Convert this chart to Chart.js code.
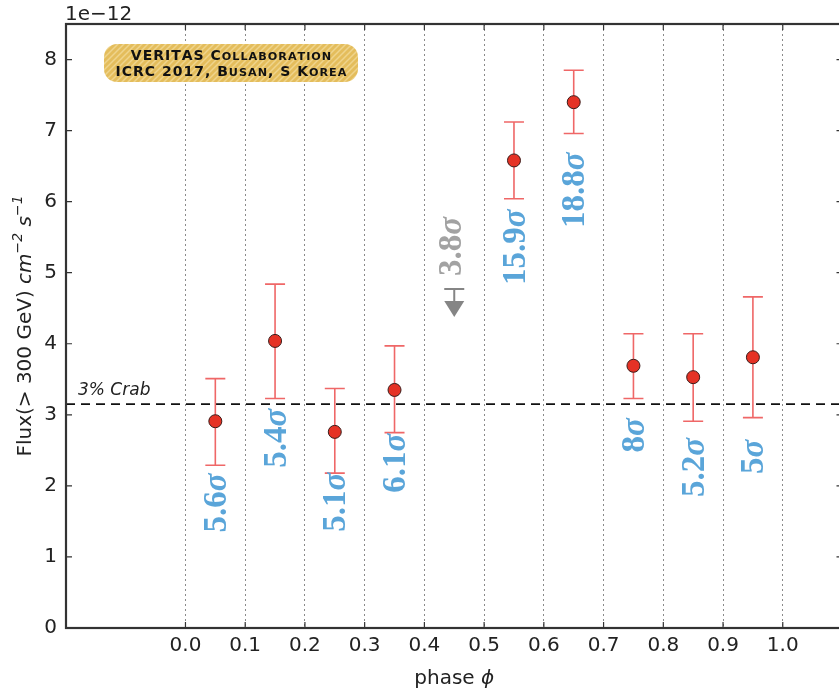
<!DOCTYPE html>
<html>
<head>
<meta charset="utf-8">
<script src="https://cdn.jsdelivr.net/npm/chart.js@4.4.0/dist/chart.umd.min.js"></script>
<style>
  html, body { margin: 0; padding: 0; background: #fff; overflow: hidden; }
  #wrap { width: 850px; height: 694px; position: relative; }
</style>
</head>
<body>
<div id="wrap"><canvas id="fluxChart"></canvas></div>
<script>
// phase-binned flux, units of 1e-12 cm^-2 s^-1
const phase = [0.05, 0.15, 0.25, 0.35, 0.55, 0.65, 0.75, 0.85, 0.95];
const flux = [2.91, 4.04, 2.76, 3.35, 6.58, 7.40, 3.69, 3.53, 3.81];
const fluxHi = [3.51, 4.84, 3.37, 3.97, 7.12, 7.85, 4.14, 4.14, 4.66];
const fluxLo = [2.29, 3.23, 2.18, 2.75, 6.04, 6.96, 3.23, 2.91, 2.96];

// upper limit bin
const ulPhase = 0.45;
const ulFlux = 4.77;

// significance labels (rotated), anchored in data coords
const sigPhase = [0.05, 0.15, 0.25, 0.35, 0.45, 0.55, 0.65, 0.75, 0.85, 0.95];
const sigText = ['5.6', '5.4', '5.1', '6.1', '3.8', '15.9', '18.8', '8', '5.2', '5'];
const sigY = [1.76, 2.67, 1.77, 2.32, 5.37, 5.36, 6.16, 2.71, 2.26, 2.41];

const crabLevel = 3.15;

const xTicks = [0.0, 0.1, 0.2, 0.3, 0.4, 0.5, 0.6, 0.7, 0.8, 0.9, 1.0];
const yTicks = [0, 1, 2, 3, 4, 5, 6, 7, 8];

const axisColor = '#333';
const textColor = '#222';
const errColor = '#ef6767';
const ulColor = '#858585';
const sigBlue = '#5aa5d9';
const sigGray = '#a2a2a2';

function makeHatch(ctx) {
  const c = document.createElement('canvas');
  c.width = 6; c.height = 6;
  const g = c.getContext('2d');
  g.fillStyle = '#e4bd5c';
  g.fillRect(0, 0, 6, 6);
  g.strokeStyle = '#efd48c';
  g.lineWidth = 1.5;
  g.beginPath();
  g.moveTo(-1, 7); g.lineTo(7, -1);
  g.moveTo(-4, 4); g.lineTo(4, -4);
  g.moveTo(2, 10); g.lineTo(10, 2);
  g.stroke();
  return ctx.createPattern(c, 'repeat');
}

// small caps by hand: lowercase letters drawn as smaller capitals
function smallCaps(ctx, text, cx, y, size, spacing) {
  const parts = text.split('').map(ch => {
    const low = ch !== ch.toUpperCase();
    const s = low ? size * 0.8 : size;
    ctx.font = 'bold ' + s + 'px "DejaVu Sans"';
    return {ch: ch.toUpperCase(), s: s, w: ctx.measureText(ch.toUpperCase()).width + spacing};
  });
  const total = parts.reduce((a, p) => a + p.w, 0) - spacing;
  let x = cx - total / 2;
  ctx.textAlign = 'left';
  ctx.textBaseline = 'alphabetic';
  parts.forEach(p => {
    ctx.font = 'bold ' + p.s + 'px "DejaVu Sans"';
    ctx.fillText(p.ch, x, y);
    x += p.w;
  });
}

// draw a run of text pieces, each {t, font, dy}
function drawRuns(ctx, runs, x, y, align) {
  let total = 0;
  runs.forEach(r => { ctx.font = r.font; r.w = ctx.measureText(r.t).width; total += r.w; });
  let cx = align === 'center' ? x - total / 2 : x;
  ctx.textAlign = 'left';
  runs.forEach(r => {
    ctx.font = r.font;
    ctx.fillText(r.t, cx, y + (r.dy || 0));
    cx += r.w;
  });
}

const overlay = {
  id: 'overlay',
  beforeDatasetsDraw(chart) {
    const ctx = chart.ctx;
    const xs = chart.scales.x, ys = chart.scales.y;
    const area = chart.chartArea;
    ctx.save();

    // 3% Crab level
    const yc = ys.getPixelForValue(crabLevel);
    ctx.strokeStyle = '#111';
    ctx.lineWidth = 1.6;
    ctx.setLineDash([9, 6]);
    ctx.beginPath();
    ctx.moveTo(area.left, yc);
    ctx.lineTo(area.right, yc);
    ctx.stroke();
    ctx.setLineDash([]);
    ctx.fillStyle = textColor;
    ctx.font = 'italic 17px "DejaVu Sans"';
    ctx.textAlign = 'left';
    ctx.textBaseline = 'alphabetic';
    ctx.fillText('3% Crab', area.left + 12, yc - 9);

    // error bars
    ctx.strokeStyle = errColor;
    ctx.lineWidth = 1.6;
    phase.forEach((p, i) => {
      const x = xs.getPixelForValue(p);
      const yt = ys.getPixelForValue(fluxHi[i]);
      const yb = ys.getPixelForValue(fluxLo[i]);
      ctx.beginPath();
      ctx.moveTo(x, yt); ctx.lineTo(x, yb);
      ctx.moveTo(x - 10, yt); ctx.lineTo(x + 10, yt);
      ctx.moveTo(x - 10, yb); ctx.lineTo(x + 10, yb);
      ctx.stroke();
    });

    // upper limit arrow
    const ux = xs.getPixelForValue(ulPhase);
    const uy = ys.getPixelForValue(ulFlux);
    ctx.strokeStyle = ulColor;
    ctx.fillStyle = ulColor;
    ctx.lineWidth = 2;
    ctx.beginPath();
    ctx.moveTo(ux - 10, uy); ctx.lineTo(ux + 10, uy);
    ctx.moveTo(ux, uy); ctx.lineTo(ux, uy + 13);
    ctx.stroke();
    ctx.beginPath();
    ctx.moveTo(ux - 10, uy + 12);
    ctx.lineTo(ux + 10, uy + 12);
    ctx.lineTo(ux, uy + 28);
    ctx.closePath();
    ctx.fill();

    // significance labels, rotated
    sigPhase.forEach((p, i) => {
      const x = xs.getPixelForValue(p) - (p === ulPhase ? 4 : 0);
      const y = ys.getPixelForValue(sigY[i]);
      ctx.save();
      ctx.translate(x, y);
      ctx.rotate(-Math.PI / 2);
      ctx.fillStyle = p === ulPhase ? sigGray : sigBlue;
      ctx.textBaseline = 'middle';
      drawRuns(ctx, [
        {t: sigText[i], font: 'bold 33px "Liberation Serif"'},
        {t: '\u03C3', font: 'bold italic 33px "Liberation Serif"'}
      ], 0, 2, 'center');
      ctx.restore();
    });
    ctx.restore();
  },
  afterDatasetsDraw(chart) {
    const ctx = chart.ctx;
    ctx.save();
    // collaboration badge
    ctx.fillStyle = makeHatch(ctx);
    ctx.beginPath();
    ctx.roundRect(104, 44, 254, 38, 13);
    ctx.fill();
    ctx.fillStyle = '#111';
    smallCaps(ctx, 'VERITAS Collaboration', 231, 60, 14, 1);
    smallCaps(ctx, 'ICRC 2017, Busan, S Korea', 231, 76, 14, 1);
    ctx.restore();
  },
  afterDraw(chart) {
    const ctx = chart.ctx;
    const xs = chart.scales.x, ys = chart.scales.y;
    const a = chart.chartArea;
    ctx.save();

    // inward tick marks on all four sides
    ctx.strokeStyle = axisColor;
    ctx.lineWidth = 1.2;
    ctx.beginPath();
    xTicks.forEach(v => {
      const x = xs.getPixelForValue(v);
      ctx.moveTo(x, a.bottom); ctx.lineTo(x, a.bottom - 6);
      ctx.moveTo(x, a.top); ctx.lineTo(x, a.top + 6);
    });
    yTicks.forEach(v => {
      const y = ys.getPixelForValue(v);
      ctx.moveTo(a.left, y); ctx.lineTo(a.left + 6, y);
      ctx.moveTo(a.right, y); ctx.lineTo(a.right - 6, y);
    });
    ctx.stroke();

    // spines
    ctx.lineWidth = 2.2;
    ctx.strokeRect(a.left, a.top, a.right - a.left, a.bottom - a.top);

    // offset text
    ctx.fillStyle = textColor;
    ctx.textBaseline = 'alphabetic';
    ctx.font = '20px "DejaVu Sans"';
    ctx.textAlign = 'left';
    ctx.fillText('1e\u221212', a.left - 1, 20);

    // x title
    drawRuns(ctx, [
      {t: 'phase ', font: '20px "DejaVu Sans"'},
      {t: '\u03D5', font: 'italic 20px "DejaVu Sans"'}
    ], (a.left + a.right) / 2, 684, 'center');

    // y title
    ctx.translate(31, (a.top + a.bottom) / 2);
    ctx.rotate(-Math.PI / 2);
    drawRuns(ctx, [
      {t: 'Flux(> 300 GeV) ', font: '20px "DejaVu Sans"'},
      {t: 'cm', font: 'italic 20px "DejaVu Sans"'},
      {t: '\u22122', font: 'italic 14px "DejaVu Sans"', dy: -9},
      {t: ' s', font: 'italic 20px "DejaVu Sans"'},
      {t: '\u22121', font: 'italic 14px "DejaVu Sans"', dy: -9}
    ], 0, 0, 'center');
    ctx.restore();
  }
};

new Chart(document.getElementById('fluxChart'), {
  type: 'scatter',
  data: {
    datasets: [{
      data: phase.map((p, i) => ({x: p, y: flux[i]})),
      backgroundColor: '#e53225',
      borderColor: '#3a1c1a',
      borderWidth: 1,
      pointRadius: 6.5
    }]
  },
  options: {
    responsive: true,
    maintainAspectRatio: false,
    animation: false,
    events: [],
    layout: { padding: { top: 24, left: 0, right: 2, bottom: 0 } },
    plugins: { legend: { display: false }, tooltip: { enabled: false } },
    scales: {
      x: {
        type: 'linear',
        min: -0.2,
        max: 1.1,
        afterBuildTicks: (scale) => { scale.ticks = xTicks.map(v => ({value: v})); },
        afterFit: (scale) => { scale.height = 66; scale.paddingLeft = 0; scale.paddingRight = 0; },
        grid: { color: '#8a8a8a', lineWidth: 1, drawTicks: false },
        border: { display: false, dash: [2, 3] },
        ticks: {
          padding: 6,
          color: textColor,
          font: { family: 'DejaVu Sans', size: 20 },
          maxRotation: 0,
          callback: (v) => v.toFixed(1)
        }
      },
      y: {
        type: 'linear',
        min: 0,
        max: 8.5,
        afterBuildTicks: (scale) => { scale.ticks = yTicks.map(v => ({value: v})); },
        afterFit: (scale) => { scale.width = 66; scale.paddingTop = 0; scale.paddingBottom = 0; },
        grid: { display: false, drawTicks: false },
        border: { display: false },
        ticks: {
          padding: 9,
          color: textColor,
          font: { family: 'DejaVu Sans', size: 20 }
        }
      }
    }
  },
  plugins: [overlay]
});
</script>
</body>
</html>
